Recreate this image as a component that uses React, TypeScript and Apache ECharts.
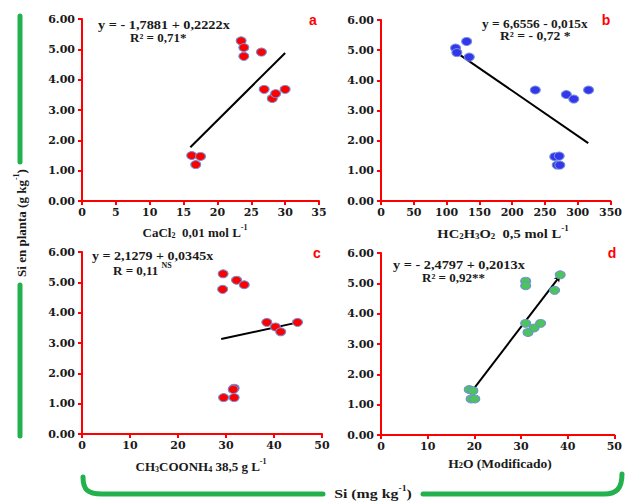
import React, { useEffect, useRef } from "react";
import * as echarts from "echarts";

// Panel a: CaCl2 0,01 mol L-1
const aX = [16.2, 17.5, 16.8, 23.5, 23.9, 23.9, 26.5, 26.9, 28.1, 28.6, 30.0];
const aY = [1.5, 1.47, 1.2, 5.28, 5.06, 4.77, 4.91, 3.68, 3.38, 3.54, 3.68];
const aLine = [[16.0, 1.77], [30.0, 4.88]];
// Panel b: HC2H3O2 0,5 mol L-1
const bX = [113.7, 115.7, 130.6, 134.6, 235.3, 282.6, 294, 316.5, 265, 271.7, 268.7, 272.7];
const bY = [5.07, 4.92, 5.29, 4.77, 3.68, 3.53, 3.38, 3.68, 1.47, 1.49, 1.19, 1.19];
const bLine = [[112, 4.97], [316, 1.92]];
// Panel c: CH3COONH4 38,5 g L-1
const cX = [29.4, 29.3, 32.2, 33.8, 38.5, 40.3, 41.4, 44.9, 31.7, 31.5, 29.5, 31.7];
const cY = [5.28, 4.77, 5.07, 4.92, 3.68, 3.53, 3.37, 3.68, 1.51, 1.47, 1.2, 1.2];
const cLine = [[29.0, 3.13], [45.0, 3.68]];
// Panel d: H2O (Modificado)
const dX = [18.9, 19.7, 19.3, 20.1, 31.0, 31.0, 31.0, 31.5, 32.8, 34.2, 37.2, 38.4];
const dY = [1.5, 1.46, 1.19, 1.19, 5.07, 4.92, 3.68, 3.38, 3.53, 3.68, 4.77, 5.28];
const dLine = [[19.0, 1.35], [38.5, 5.27]];

const yTicks = [0, 1, 2, 3, 4, 5, 6];

const zip = (xs: number[], ys: number[]) => xs.map((x, i) => [x, ys[i]]);

const SERIF = "Liberation Serif";
const RED = "#FF0000";
const GREEN = "#22B14C";
const INK = "#1a1a1a";

export default function App() {
  const ref = useRef<HTMLDivElement>(null);
  useEffect(() => {
    document.body.style.margin = "0";
    const chart = echarts.init(ref.current!, null, { renderer: "svg" });

    echarts.graphic.registerShape(
      "bracketL",
      echarts.graphic.extendPath("M83 477 C83 490 88 494 102 494 L323 494", {})
    );
    echarts.graphic.registerShape(
      "bracketR",
      echarts.graphic.extendPath("M423 494 L604 494 C617 494 622 488 622 474", {})
    );

    const grids = [
      { left: 82, top: 19, width: 237, height: 182 },
      { left: 381, top: 20, width: 234, height: 181 },
      { left: 82, top: 252, width: 240, height: 182 },
      { left: 381, top: 253, width: 240, height: 182 },
    ];
    const xRanges = [
      { max: 35, interval: 5 },
      { max: 350, interval: 50 },
      { max: 50, interval: 10 },
      { max: 50, interval: 10 },
    ];
    const axisCommon = {
      axisLine: { show: true, onZero: false, lineStyle: { color: RED, width: 2 } },
      axisTick: { show: true, length: 4, lineStyle: { color: RED, width: 2 } },
      splitLine: { show: false },
    };
    const labelStyle = {
      color: INK,
      fontFamily: "'DejaVu Serif', serif",
      fontWeight: "bold" as const,
      fontSize: 11,
    };

    const pts = [zip(aX, aY), zip(bX, bY), zip(cX, cY), zip(dX, dY)];
    const lines = [aLine, bLine, cLine, dLine];
    const fills = ["#FF0000", "#3535EE", "#FF0000", "#4CC45C"];

    const series: any[] = [];
    pts.forEach((p, i) => {
      const lineData: any[] =
        i === 3
          ? [
              { value: lines[i][0], symbol: "none" },
              { value: lines[i][1], symbol: "arrow", symbolSize: [5, 7], symbolRotate: -38 },
            ]
          : lines[i];
      series.push({
        type: "line",
        xAxisIndex: i,
        yAxisIndex: i,
        data: lineData,
        symbol: "none",
        showSymbol: true,
        itemStyle: { color: "#000" },
        lineStyle: { color: "#000", width: 2 },
        z: 2,
      });
      series.push({
        type: "scatter",
        xAxisIndex: i,
        yAxisIndex: i,
        data: p,
        symbol: "circle",
        symbolSize: [10, 8],
        itemStyle: { color: fills[i], borderColor: "#6F8FD6", borderWidth: 1, opacity: 1 },
        z: 3,
      });
    });

    const rich = {
      n: { fontFamily: SERIF, fontWeight: "bold", fontSize: 13, fill: INK, color: INK, lineHeight: 16, verticalAlign: "bottom" },
      sub: { fontFamily: SERIF, fontWeight: "bold", fontSize: 8, fill: INK, color: INK, lineHeight: 8, verticalAlign: "bottom" },
      sup: { fontFamily: SERIF, fontWeight: "bold", fontSize: 8, fill: INK, color: INK, lineHeight: 8, verticalAlign: "top" },
    };

    const txt = (x: number, y: number, text: string, align: string = "left", sx: number = 1) => ({
      type: "text",
      x,
      y,
      scaleX: sx,
      style: {
        text,
        fill: INK,
        font: `bold 13px "${SERIF}"`,
        align,
        verticalAlign: "middle",
        rich,
      },
    });
    const letter = (x: number, y: number, t: string) => ({
      type: "text",
      x,
      y,
      style: { text: t, fill: RED, font: 'bold 14px "Liberation Sans"', align: "center", verticalAlign: "middle" },
    });

    const graphics: any[] = [
      // equations
      txt(98, 25, "y = - 1,7881 + 0,2222x", "left", 1.1),
      txt(130, 37, "R² = 0,71*"),
      txt(482, 24, "y = 6,6556 - 0,015x", "left", 1.03),
      txt(500, 36, "R² = - 0,72 *", "left", 1.05),
      txt(92, 256, "y = 2,1279 + 0,0345x", "left", 1.08),
      txt(113, 269, "{n|R = 0,11 }{sup|NS}"),
      txt(393, 265, "y = - 2,4797 + 0,2013x", "left", 1.1),
      txt(422, 277, "R² = 0,92**"),
      // panel letters
      letter(313, 20, "a"),
      letter(606, 20, "b"),
      letter(317, 253, "c"),
      letter(612, 253, "d"),
      // axis names
      txt(195, 231, "{n|CaCl}{sub|2}{n|  0,01 mol L}{sup|-1}", "center"),
      txt(503, 232, "{n|HC}{sub|2}{n|H}{sub|3}{n|O}{sub|2}{n|  0,5 mol L}{sup|-1}", "center", 1.12),
      txt(201, 465, "{n|CH}{sub|3}{n|COONH}{sub|4}{n| 38,5 g L}{sup|-1}", "center"),
      txt(500, 462, "{n|H}{sub|2}{n|O (Modificado)}", "center", 1.04),
      // bottom label
      txt(373, 492, "{n|Si (mg kg}{sup|-1}{n|)}", "center", 1.22),
      // left label
      {
        type: "text",
        x: 20,
        y: 223,
        rotation: Math.PI / 2,
        style: {
          text: "{n|Si en planta (g kg}{sup|-1}{n|)}",
          align: "center",
          verticalAlign: "middle",
          rich,
        },
      },
      // green brackets
      { type: "line", shape: { x1: 20, y1: 16, x2: 20, y2: 162 }, style: { stroke: GREEN, lineWidth: 5, lineCap: "round" } },
      { type: "line", shape: { x1: 20, y1: 285, x2: 20, y2: 436 }, style: { stroke: GREEN, lineWidth: 5, lineCap: "round" } },
      { type: "bracketL", style: { stroke: GREEN, lineWidth: 5, fill: "none", lineCap: "round" } },
      { type: "bracketR", style: { stroke: GREEN, lineWidth: 5, fill: "none", lineCap: "round" } },
    ];

    chart.setOption({
      animation: false,
      backgroundColor: "#fff",
      grid: grids,
      xAxis: grids.map((_, i) => ({
        type: "value",
        gridIndex: i,
        min: 0,
        max: xRanges[i].max,
        interval: xRanges[i].interval,
        ...axisCommon,
        axisLabel: { ...labelStyle, margin: 6, showMaxLabel: true },
      })),
      yAxis: grids.map((_, i) => ({
        type: "value",
        gridIndex: i,
        min: yTicks[0],
        max: yTicks[yTicks.length - 1],
        interval: 1,
        ...axisCommon,
        axisLabel: { ...labelStyle, margin: 7, formatter: (v: number) => v.toFixed(2) },
      })),
      series,
      graphic: graphics,
    });
    return () => chart.dispose();
  }, []);
  return <div ref={ref} style={{ position: "fixed", left: 0, top: 0, width: 625, height: 501 }} />;
}
